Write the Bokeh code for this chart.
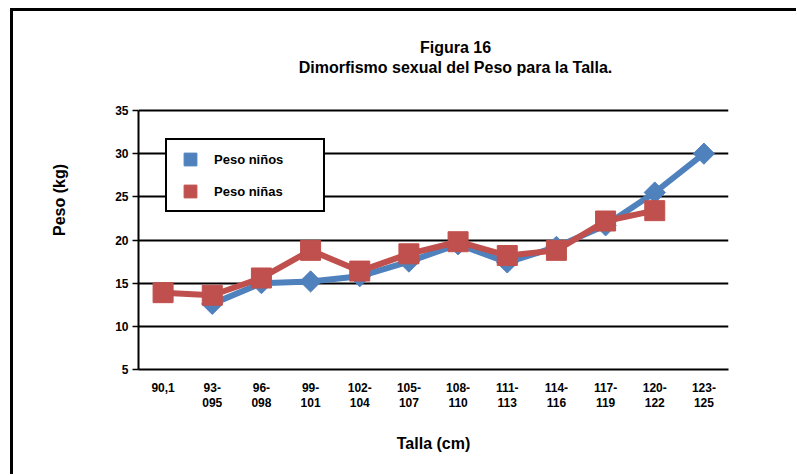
import math
from bokeh.plotting import figure
from bokeh.models import (Range1d, FactorRange, Legend, LegendItem, Label,
                          ColumnDataSource, FixedTicker)
from bokeh.embed import file_html
from bokeh.resources import INLINE

# ---------------- data ----------------
tallas = ["90,1", "93-\n095", "96-\n098", "99-\n101", "102-\n104", "105-\n107",
          "108-\n110", "111-\n113", "114-\n116", "117-\n119", "120-\n122", "123-\n125"]
peso_ninos = [math.nan, 12.6, 15.0, 15.2, 15.8, 17.5, 19.5, 17.4, 19.2, 21.7, 25.5, 30.0]
peso_ninas = [13.9, 13.6, 15.6, 18.8, 16.4, 18.4, 19.8, 18.2, 18.8, 22.2, 23.4, math.nan]
y_ticks = [5, 10, 15, 20, 25, 30, 35]
titulo_1 = "Figura 16"
titulo_2 = "Dimorfismo sexual del Peso para la Talla."
serie_ninos = "Peso niños"
serie_ninas = "Peso niñas"

BLUE = "#4F81BD"
RED = "#C0504D"
FONT = "Liberation Sans"

# ---------------- layout (pixels) ----------------
W, H = 786, 466
AXIS_H = 259          # height of the 5..35 axis
TOP_EXTRA = 80        # extra frame height above the axis top (for the titles)
px_per_unit = AXIS_H / (y_ticks[-1] - y_ticks[0])
y_top = y_ticks[-1] + TOP_EXTRA / px_per_unit

p = figure(width=W, height=H, x_range=FactorRange(*tallas),
           y_range=Range1d(y_ticks[0], y_top),
           output_backend="svg", toolbar_location=None, title=None,
           min_border_left=125, min_border_right=71, min_border_top=19,
           min_border_bottom=108)
p.styles = {"box-shadow": "-3px -3px 0px 0px black",
            "position": "relative", "left": "13px", "top": "11px"}
p.outline_line_color = None
p.background_fill_color = "white"
p.border_fill_color = "white"

src = ColumnDataSource(dict(x=tallas, ninos=peso_ninos, ninas=peso_ninas))

p.line("x", "ninos", source=src, color=BLUE, line_width=6)
p.scatter("x", "ninos", source=src, marker="square", angle=math.pi / 4, size=15,
          color=BLUE)
p.line("x", "ninas", source=src, color=RED, line_width=6)
p.scatter("x", "ninas", source=src, marker="square", size=20, color=RED)

# legend swatches (square markers, no visible point in the plot)
r_b = p.scatter(x=[tallas[0]], y=[math.nan], marker="square", color=BLUE)
r_r = p.scatter(x=[tallas[0]], y=[math.nan], marker="square", color=RED)
legend = Legend(items=[LegendItem(label=serie_ninos, renderers=[r_b], index=0),
                       LegendItem(label=serie_ninas, renderers=[r_r], index=0)],
                location=(27, 157), orientation="vertical",
                glyph_width=40, glyph_height=32, padding=3, spacing=0, margin=0,
                label_standoff=4, label_width=106,
                label_text_font=FONT, label_text_font_style="bold",
                label_text_font_size="13px", label_text_color="black",
                border_line_color="black", border_line_width=2, border_line_alpha=1,
                background_fill_color="white", background_fill_alpha=1)
p.add_layout(legend, "center")

# axes
p.yaxis.ticker = FixedTicker(ticks=y_ticks)
p.yaxis.bounds = (y_ticks[0], y_ticks[-1])
p.yaxis.axis_line_color = "black"
p.yaxis.axis_line_width = 2
p.yaxis.major_tick_line_color = "black"
p.yaxis.major_tick_line_width = 1.5
p.yaxis.major_tick_out = 6
p.yaxis.major_tick_in = 0
p.yaxis.minor_tick_line_color = None
p.yaxis.major_label_standoff = 4
p.yaxis.axis_label = "Peso (kg)"
p.yaxis.axis_label_standoff = 44

p.xaxis.axis_line_color = "black"
p.xaxis.axis_line_width = 2
p.xaxis.major_tick_line_color = None
p.xaxis.major_label_standoff = 5
p.xaxis.major_label_text_line_height = 1.1
p.xaxis.axis_label = "Talla (cm)"
p.xaxis.axis_label_standoff = 22

for ax in (p.xaxis[0], p.yaxis[0]):
    ax.major_label_text_font = FONT
    ax.major_label_text_font_style = "bold"
    ax.major_label_text_font_size = "12px"
    ax.major_label_text_color = "black"
    ax.axis_label_text_font = FONT
    ax.axis_label_text_font_style = "bold"
    ax.axis_label_text_font_size = "16px"
    ax.axis_label_text_color = "black"

p.xgrid.grid_line_color = None
p.ygrid.grid_line_color = "black"
p.ygrid.grid_line_width = 2
p.ygrid.ticker = FixedTicker(ticks=y_ticks)

# titles (screen units relative to the plot frame: x from left, y up from bottom)
for txt, yy in ((titulo_1, 322), (titulo_2, 302)):
    p.add_layout(Label(x=317, y=yy, x_units="screen", y_units="screen", text=txt,
                       text_align="center", text_baseline="middle",
                       text_font=FONT, text_font_style="bold", text_font_size="16px",
                       text_color="black"))

open("out.html", "w").write(file_html(p, INLINE))
